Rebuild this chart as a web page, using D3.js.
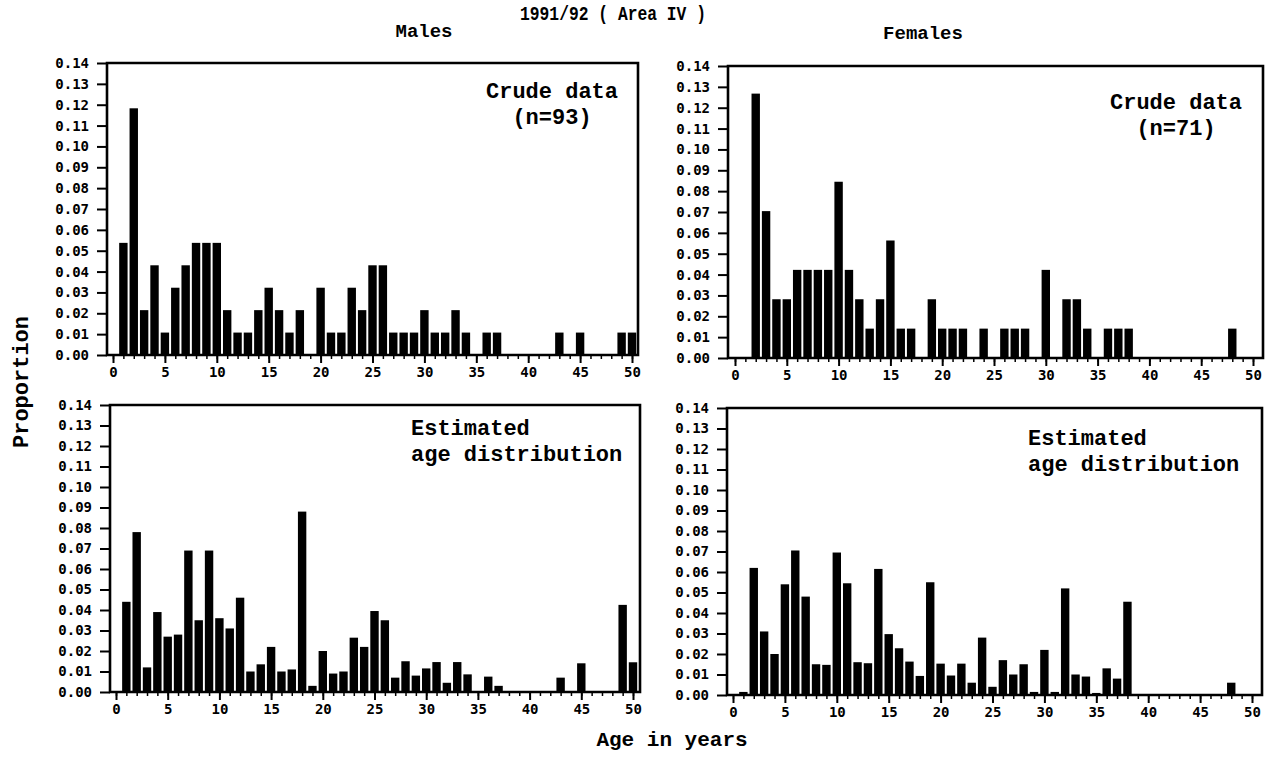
<!DOCTYPE html>
<html>
<head>
<meta charset="utf-8">
<script src="https://cdn.jsdelivr.net/npm/d3@7"></script>
<style>
  body { margin: 0; background: #fff; }
  .tick text { font-family: "DejaVu Sans Mono"; font-weight: bold; font-size: 14px; fill: #000; }
  .lbl { font-family: "Liberation Mono"; font-weight: bold; fill: #000; }
</style>
</head>
<body>
<svg id="chart" width="1274" height="762"></svg>
<script>
// ages 0..50 on the x axis
const ages = d3.range(0, 51);
const xTickValues = [0, 5, 10, 15, 20, 25, 30, 35, 40, 45, 50];
const yTickValues = [0, 0.01, 0.02, 0.03, 0.04, 0.05, 0.06, 0.07, 0.08, 0.09, 0.10, 0.11, 0.12, 0.13, 0.14];

const maleN = 93;
const femaleN = 71;

// crude data: counts per age (proportion = count / n)
const maleCrudeCounts = [
  0, 5, 11, 2, 4, 1, 3, 4, 5, 5,
  5, 2, 1, 1, 2, 3, 2, 1, 2, 0,
  3, 1, 1, 3, 2, 4, 4, 1, 1, 1,
  2, 1, 1, 2, 1, 0, 1, 1, 0, 0,
  0, 0, 0, 1, 0, 1, 0, 0, 0, 1,
  1];
const femaleCrudeCounts = [
  0, 0, 9, 5, 2, 2, 3, 3, 3, 3,
  6, 3, 2, 1, 2, 4, 1, 1, 0, 2,
  1, 1, 1, 0, 1, 0, 1, 1, 1, 0,
  3, 0, 2, 2, 1, 0, 1, 1, 1, 0,
  0, 0, 0, 0, 0, 0, 0, 0, 1, 0,
  0];

// estimated age distribution (proportions)
const maleEstimated = [
  0, 0.044, 0.078, 0.012, 0.039, 0.027, 0.028, 0.069, 0.035, 0.069,
  0.036, 0.031, 0.046, 0.010, 0.0135, 0.022, 0.010, 0.011, 0.088, 0.003,
  0.020, 0.009, 0.010, 0.0265, 0.022, 0.0395, 0.035, 0.007, 0.015, 0.008,
  0.0115, 0.0146, 0.0045, 0.0146, 0.0086, 0, 0.0075, 0.003, 0, 0,
  0, 0, 0, 0.007, 0, 0.014, 0, 0, 0, 0.0425,
  0.0145];
const femaleEstimated = [
  0, 0.0015, 0.062, 0.031, 0.020, 0.054, 0.0705, 0.048, 0.015, 0.0147,
  0.0695, 0.0545, 0.016, 0.0155, 0.0615, 0.0297, 0.0228, 0.0163, 0.0093, 0.055,
  0.0153, 0.0095, 0.0153, 0.006, 0.028, 0.004, 0.017, 0.010, 0.015, 0.0015,
  0.022, 0.0015, 0.052, 0.010, 0.009, 0.001, 0.013, 0.008, 0.0455, 0,
  0, 0, 0, 0, 0, 0, 0, 0, 0.006, 0,
  0];

const panels = [
  { values: maleCrudeCounts.map(c => c / maleN), left: 107, right: 638, top: 63, base: 355, x0: 113, x50: 632,
    note: ['Crude data', '(n=93)'], noteX: 552, noteY: 98, anchor: 'middle' },
  { values: femaleCrudeCounts.map(c => c / femaleN), left: 728, right: 1263, top: 66, base: 358, x0: 735, x50: 1253,
    note: ['Crude data', '(n=71)'], noteX: 1176, noteY: 109, anchor: 'middle' },
  { values: maleEstimated, left: 110, right: 640, top: 405, base: 692, x0: 116, x50: 633,
    note: ['Estimated', 'age distribution'], noteX: 411, noteY: 435, anchor: 'start' },
  { values: femaleEstimated, left: 727, right: 1262, top: 408, base: 695, x0: 733, x50: 1252,
    note: ['Estimated', 'age distribution'], noteX: 1028, noteY: 445, anchor: 'start' }
];

const svg = d3.select('svg#chart');

panels.forEach(p => {
  const g = svg.append('g');
  const x = d3.scaleLinear().domain([0, 50]).range([p.x0, p.x50]);
  const y = d3.scaleLinear().domain([0, 0.14]).range([p.base, p.top]);
  const barW = 8.4;

  g.selectAll('rect.bar').data(ages.filter(a => p.values[a] > 0))
    .enter().append('rect')
      .attr('class', 'bar')
      .attr('x', a => x(a) - barW / 2)
      .attr('width', barW)
      .attr('y', a => y(p.values[a]))
      .attr('height', a => Math.max(1.5, p.base - y(p.values[a])))
      .attr('fill', '#000');

  // y axis, ticks outside the frame
  const yAxis = g.append('g')
    .attr('transform', `translate(${p.left},0)`)
    .call(d3.axisLeft(y).tickValues(yTickValues).tickSize(10).tickPadding(8).tickFormat(d3.format('.2f')));
  yAxis.select('.domain').remove();
  yAxis.selectAll('.tick line').attr('stroke-width', 2);

  // x axis: minor ticks every year, labelled every 5
  const xMinor = g.append('g')
    .attr('transform', `translate(0,${p.base})`)
    .call(d3.axisBottom(x).tickValues(ages).tickSize(4).tickFormat(''));
  xMinor.select('.domain').remove();
  xMinor.selectAll('.tick line').attr('stroke-width', 1.5);

  const xAxis = g.append('g')
    .attr('transform', `translate(0,${p.base})`)
    .call(d3.axisBottom(x).tickValues(xTickValues).tickSize(8).tickPadding(4));
  xAxis.select('.domain').remove();
  xAxis.selectAll('.tick line').attr('stroke-width', 2);

  // frame
  g.append('path')
    .attr('d', `M${p.left},${p.base}V${p.top}H${p.right}V${p.base}Z`)
    .attr('fill', 'none')
    .attr('stroke', '#000')
    .attr('stroke-width', 2.6);

  const note = g.append('text')
    .attr('class', 'lbl')
    .attr('font-size', 22)
    .attr('text-anchor', p.anchor);
  p.note.forEach((line, i) => {
    note.append('tspan').attr('x', p.noteX).attr('y', p.noteY + i * 26).text(line);
  });
});

svg.append('text').attr('class', 'lbl').attr('font-size', 20)
  .attr('x', 520).attr('y', 20)
  .attr('textLength', 186).attr('lengthAdjust', 'spacingAndGlyphs')
  .text('1991/92 ( Area IV )');
svg.append('text').attr('class', 'lbl').attr('font-size', 19)
  .attr('x', 424).attr('y', 37).attr('text-anchor', 'middle').text('Males');
svg.append('text').attr('class', 'lbl').attr('font-size', 19)
  .attr('x', 923).attr('y', 39).attr('text-anchor', 'middle').text('Females');
svg.append('text').attr('class', 'lbl').attr('font-size', 22)
  .attr('transform', 'translate(28,382) rotate(-90)').attr('text-anchor', 'middle').text('Proportion');
svg.append('text').attr('class', 'lbl').attr('font-size', 21)
  .attr('x', 672).attr('y', 746).attr('text-anchor', 'middle').text('Age in years');
</script>
</body>
</html>
